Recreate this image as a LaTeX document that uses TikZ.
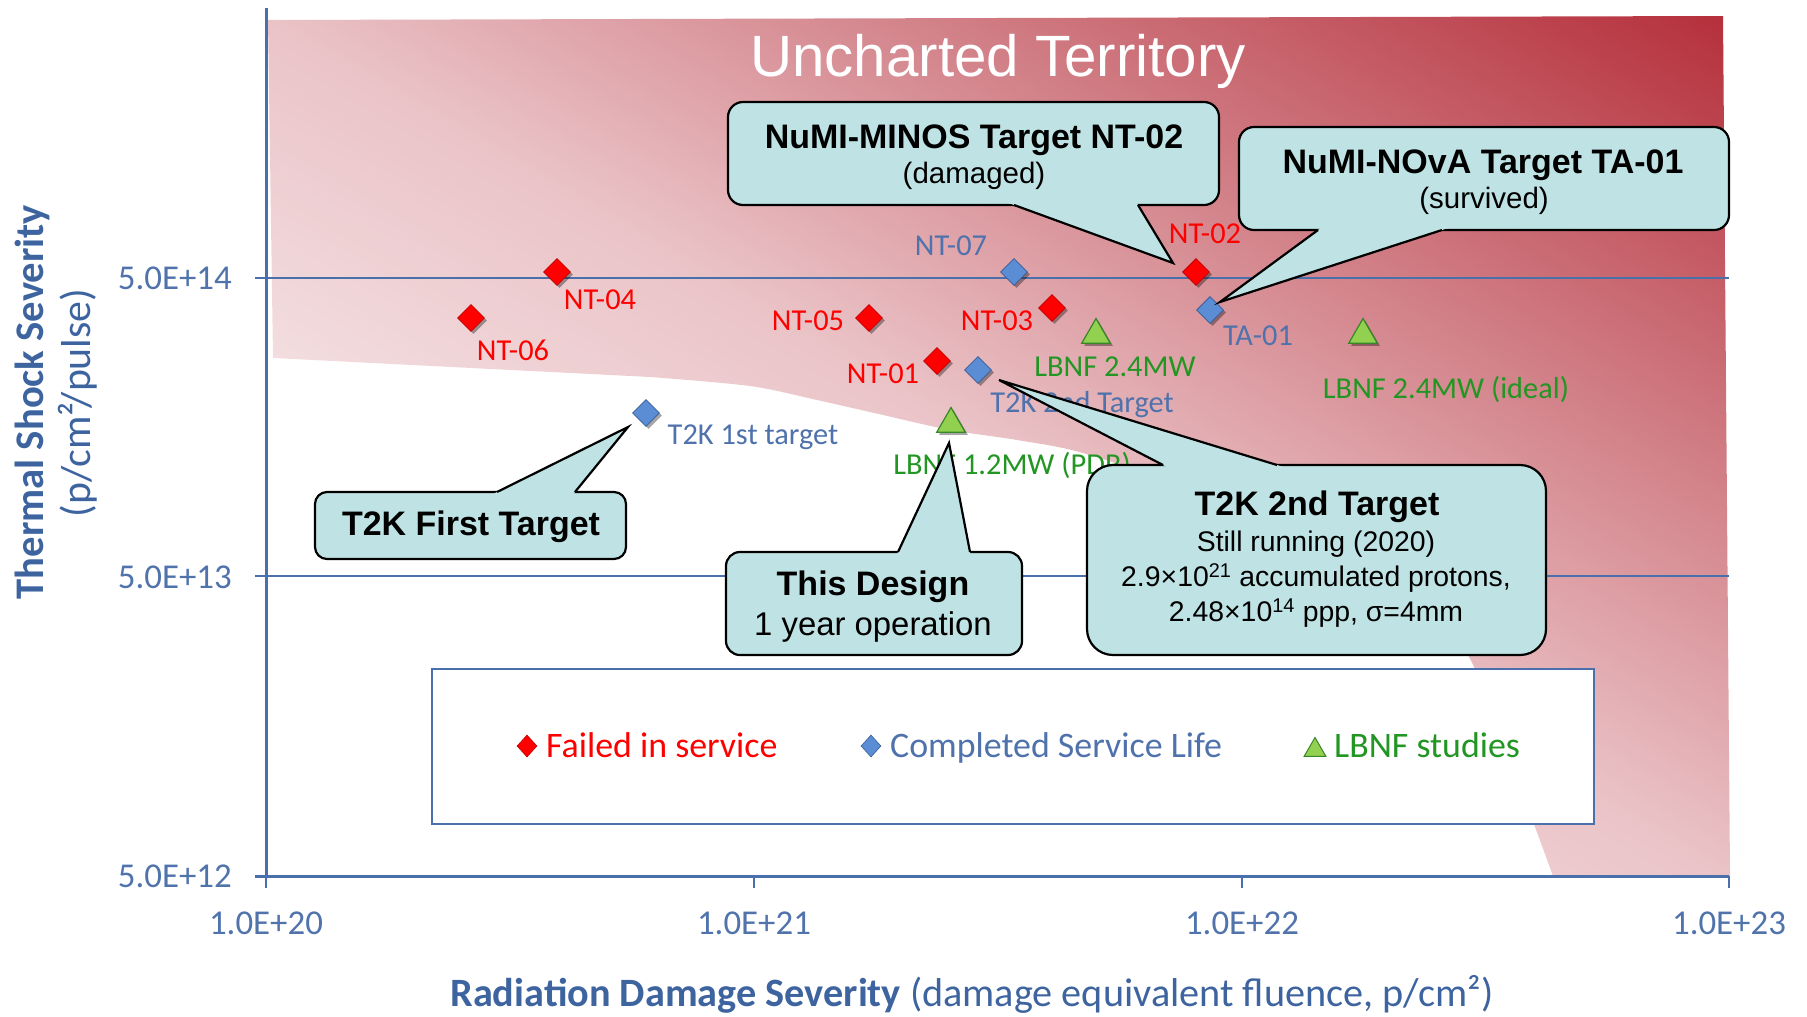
\documentclass[tikz,border=0pt]{standalone}
\usepackage{fontspec}
\setmainfont{Liberation Sans}
\newfontfamily\calfont{Carlito}
\usetikzlibrary{shapes.geometric,shadows,calc}

\definecolor{axblue}{RGB}{74,112,172}
\definecolor{tickblue}{RGB}{80,115,172}
\definecolor{titleblue}{RGB}{62,100,160}
\definecolor{callfill}{RGB}{191,227,228}
\definecolor{mred}{RGB}{255,0,0}
\definecolor{mredd}{RGB}{192,0,0}
\definecolor{mblue}{RGB}{91,141,212}
\definecolor{mblued}{RGB}{56,93,150}
\definecolor{mgreen}{RGB}{146,208,80}
\definecolor{mgreend}{RGB}{55,135,40}
\definecolor{lblred}{RGB}{255,0,0}
\definecolor{lblblue}{RGB}{79,114,172}
\definecolor{lblgreen}{RGB}{34,150,34}
\definecolor{pkzero}{RGB}{255,250,250}
\definecolor{pkone}{RGB}{243,222,224}
\definecolor{pktwo}{RGB}{234,195,199}
\definecolor{pkthree}{RGB}{178,40,52}
\definecolor{pkfour}{RGB}{165,30,42}

\pgfdeclareverticalshading{pinkfade}{100bp}{color(0bp)=(pkzero); color(36bp)=(pkone); color(50bp)=(pktwo); color(86bp)=(pkthree); color(100bp)=(pkfour)}

\newcommand\fsz[1]{\fontsize{#1}{#1}\selectfont}

\begin{document}
\begin{tikzpicture}[x=1bp,y=-1bp,
  axisline/.style={draw=axblue, line width=3bp},
  gridline/.style={draw=axblue, line width=2bp},
  ticklbl/.style={font=\calfont\fsz{35}, text=tickblue, inner sep=0pt},
  lbl/.style={font=\calfont\fsz{30.5}, inner sep=0pt, anchor=base},
  redlbl/.style={lbl, text=lblred},
  bluelbl/.style={lbl, text=lblblue},
  greenlbl/.style={lbl, text=lblgreen},
  shad/.style={drop shadow={shadow xshift=2.5bp, shadow yshift=-2.5bp, opacity=0.35, fill=black}},
  failed/.style={diamond, draw=mredd, fill=mred, line width=0.8bp, minimum width=27bp, minimum height=27bp, inner sep=0pt, shad},
  done/.style={diamond, draw=mblued, fill=mblue, line width=0.8bp, minimum width=27bp, minimum height=27bp, inner sep=0pt, shad},
  lbnf/.style={regular polygon, regular polygon sides=3, draw=mgreend, fill=mgreen, line width=1.2bp, minimum size=33bp, inner sep=0pt, shad},
  legfailed/.style={diamond, draw=mredd, fill=mred, line width=0.6bp, minimum width=20bp, minimum height=22bp, inner sep=0pt},
  legdone/.style={diamond, draw=mblued, fill=mblue, line width=0.6bp, minimum width=20bp, minimum height=22bp, inner sep=0pt},
  leglbnf/.style={regular polygon, regular polygon sides=3, draw=mgreend, fill=mgreen, line width=1bp, minimum size=25bp, inner sep=0pt},
  legtext/.style={font=\calfont\fsz{36}, inner sep=0pt, anchor=base west},
  callbox/.style={draw=black, line width=2.2bp, fill=callfill, inner sep=0pt},
  callline/.style={draw=black, line width=2.2bp, line join=miter},
  calltitle/.style={font=\bfseries\fsz{34.1}, inner sep=0pt, anchor=base},
  callsub/.style={font=\fsz{28.5}, inner sep=0pt, anchor=base},
  callparen/.style={font=\fsz{29.6}, inner sep=0pt, anchor=base},
  callmid/.style={font=\fsz{33}, inner sep=0pt, anchor=base}
]
\useasboundingbox (0,0) rectangle (1807,1016);

% shaded "uncharted" region
\shade[shading=pinkfade, shading angle=-30.4]
  (268,20) -- (1723,16) -- (1730,876) -- (1553,876)
  -- plot[smooth, tension=0.5] coordinates {(1553,876) (1510,760) (1468,655) (1420,602) (1320,542) (1200,492) (1083,453) (1017,440) (950,430) (883,415) (817,400) (750,386) (650,377)}
  -- (273,358) -- cycle;

% grid and axes
\draw[gridline] (266,278) -- (1729,278);
\draw[gridline] (266,576) -- (1729,576);
\draw[axisline] (266,8) -- (266,876);
\draw[axisline] (255,876) -- (1729,876);
\foreach \yy in {278,576} \draw[draw=axblue, line width=2.5bp] (255,\yy) -- (266,\yy);
\foreach \xx in {266,754,1242,1729} \draw[draw=axblue, line width=2.5bp] (\xx,876) -- (\xx,888);

% tick labels
\node[ticklbl, anchor=base east] (y14) at (232,289) {5.0E+14};
\node[ticklbl, anchor=base east] (y13) at (232,588) {5.0E+13};
\node[ticklbl, anchor=base east] (y12) at (232,887) {5.0E+12};
\node[ticklbl, anchor=base] (x20) at (266,934) {1.0E+20};
\node[ticklbl, anchor=base] (x21) at (754,934) {1.0E+21};
\node[ticklbl, anchor=base] (x22) at (1242,934) {1.0E+22};
\node[ticklbl, anchor=base] (x23) at (1729,934) {1.0E+23};

% axis titles
\node[font=\calfont\bfseries\fsz{40.8}, text=titleblue, rotate=90, anchor=base, inner sep=0pt] (ytitle) at (43,402) {Thermal Shock Severity};
\node[font=\calfont\fsz{42}, text=titleblue, rotate=90, anchor=base, inner sep=0pt] (yunit) at (90,403) {(p/cm²/pulse)};
\node[font=\calfont\fsz{40.4}, text=titleblue, anchor=base, inner sep=0pt] (xtitle) at (972,1006) {{\bfseries Radiation Damage Severity} (damage equivalent fluence, p/cm²)};

% region title
\node[font=\fsz{58.5}, text=white, anchor=base, inner sep=0pt] (uncharted) at (998,76) {Uncharted Territory};

% legend
\node[draw=axblue, line width=2.5bp, fill=white, minimum width=1162bp, minimum height=155bp, inner sep=0pt] (legend) at (1013,746.5) {};
\node[legfailed] (legred) at (527,746) {};
\node[legtext, text=lblred] (legredtxt) at (546,757) {Failed in service};
\node[legdone] (legblue) at (871,746) {};
\node[legtext, text=lblblue] (legbluetxt) at (890,757) {Completed Service Life};
\node[leglbnf] (leggreen) at (1315,750) {};
\node[legtext, text=lblgreen] (leggreentxt) at (1334,757) {LBNF studies};

% data points
\node[failed] (nt04) at (557,272) {};
\node[failed] (nt06) at (471,318) {};
\node[failed] (nt05) at (869,318) {};
\node[failed] (nt03) at (1052,308) {};
\node[failed] (nt01) at (937,361) {};
\node[failed] (nt02) at (1196,272) {};
\node[done] (nt07) at (1014,272) {};
\node[done] (ta01) at (1210,310) {};
\node[done] (t2kone) at (646,413) {};
\node[done] (t2ktwo) at (978,370) {};
\node[lbnf] (lbnfa) at (1096,335) {};
\node[lbnf] (lbnfb) at (1363,335) {};
\node[lbnf] (lbnfc) at (951,424) {};

% data labels
\node[redlbl] (lnt04) at (600,309) {NT-04};
\node[redlbl] (lnt06) at (513,360) {NT-06};
\node[redlbl] (lnt05) at (808,330) {NT-05};
\node[redlbl] (lnt03) at (997,330) {NT-03};
\node[redlbl] (lnt01) at (883,383) {NT-01};
\node[redlbl] (lnt02) at (1205,243) {NT-02};
\node[bluelbl] (lnt07) at (951,255) {NT-07};
\node[bluelbl] (lta01) at (1258,345) {TA-01};
\node[bluelbl] (lt2kone) at (753,444) {T2K 1st target};
\node[bluelbl] (lt2ktwo) at (1082,412) {T2K 2nd Target};
\node[greenlbl] (llbnfa) at (1115,376) {LBNF 2.4MW};
\node[greenlbl] (llbnfb) at (1446,398) {LBNF 2.4MW (ideal)};
\node[greenlbl] (llbnfc) at (1012,474) {LBNF 1.2MW (PDR)};

% ---------- callouts ----------
% NuMI-MINOS
\node[callbox, rounded corners=15bp, minimum width=491bp, minimum height=103bp] (minos) at (973.5,153.5) {};
\coordinate (minosTip) at (1173,263);
\coordinate (minosA) at (1014,205);
\coordinate (minosB) at (1138,205);
\fill[callfill] (minosTip) -- ($(minosTip)!1.06!(minosA)$) -- ($(minosTip)!1.06!(minosB)$) -- cycle;
\draw[callline] (minosA) -- (minosTip) -- (minosB);
\node[calltitle] (minost) at (974,148.5) {NuMI-MINOS Target NT-02};
\node[callparen] (minoss) at (974,183) {(damaged)};

% NuMI-NOvA
\node[callbox, rounded corners=15bp, minimum width=490bp, minimum height=103bp] (nova) at (1484,178.5) {};
\coordinate (novaTip) at (1220,302);
\coordinate (novaA) at (1318,230);
\coordinate (novaB) at (1442,230);
\fill[callfill] (novaTip) -- ($(novaTip)!1.06!(novaA)$) -- ($(novaTip)!1.06!(novaB)$) -- cycle;
\draw[callline] (novaA) -- (novaTip) -- (novaB);
\node[calltitle] (novat) at (1483,173) {NuMI-NOvA Target TA-01};
\node[callparen] (novas) at (1484,208) {(survived)};

% T2K First Target
\node[callbox, rounded corners=12bp, minimum width=311bp, minimum height=67bp] (tfirst) at (470.5,525.5) {};
\coordinate (tfirstTip) at (628,427);
\coordinate (tfirstA) at (497,492);
\coordinate (tfirstB) at (575,492);
\fill[callfill] (tfirstTip) -- ($(tfirstTip)!1.06!(tfirstA)$) -- ($(tfirstTip)!1.06!(tfirstB)$) -- cycle;
\draw[callline] (tfirstA) -- (tfirstTip) -- (tfirstB);
\node[calltitle] (tfirstt) at (471,535) {T2K First Target};

% This Design
\node[callbox, rounded corners=14bp, minimum width=296bp, minimum height=103bp] (design) at (874,603.5) {};
\coordinate (designTip) at (949,443);
\coordinate (designA) at (898,552);
\coordinate (designB) at (970,552);
\fill[callfill] (designTip) -- ($(designTip)!1.06!(designA)$) -- ($(designTip)!1.06!(designB)$) -- cycle;
\draw[callline] (designA) -- (designTip) -- (designB);
\node[calltitle] (designt) at (873,595) {This Design};
\node[callmid] (designs) at (873,635) {1 year operation};

% T2K 2nd Target
\node[callbox, rounded corners=26bp, minimum width=459bp, minimum height=190bp] (tsecond) at (1316.5,560) {};
\coordinate (tsecondTip) at (999,380);
\coordinate (tsecondA) at (1163,465);
\coordinate (tsecondB) at (1277,465);
\fill[callfill] (tsecondTip) -- ($(tsecondTip)!1.06!(tsecondA)$) -- ($(tsecondTip)!1.06!(tsecondB)$) -- cycle;
\draw[callline] (tsecondA) -- (tsecondTip) -- (tsecondB);
\node[calltitle] (tsecondt) at (1317,515) {T2K 2nd Target};
\node[callsub] (tseconda) at (1316,551) {Still running (2020)};
\node[callsub] (tsecondb) at (1316,586.5) {2.9×10\textsuperscript{21} accumulated protons,};
\node[callsub] (tsecondc) at (1316,621.5) {2.48×10\textsuperscript{14} ppp, σ=4mm};
\end{tikzpicture}
\end{document}
